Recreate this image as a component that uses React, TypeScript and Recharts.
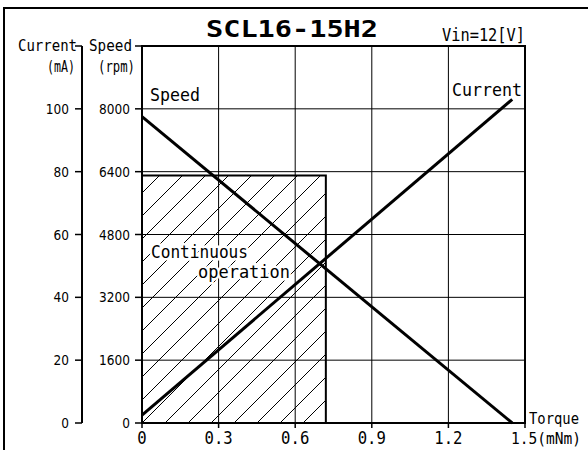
import { ComposedChart, Line, XAxis, YAxis, CartesianGrid, ReferenceArea } from 'recharts'

const torque = [0, 1.45]
const speedRpm = [7800, 0]
const currentMa = [2.5, 103]

const torqueTicks = [0, 0.3, 0.6, 0.9, 1.2, 1.5]
const speedTicks = [0, 1600, 3200, 4800, 6400, 8000, 9600]
const currentTicks = [0, 20, 40, 60, 80, 100, 120]

// continuous operation zone: torque 0..0.72 mNm, speed 0..6300 rpm
const continuousTorque = [0, 0.72]
const continuousSpeed = [0, 6300]

const data = torque.map((t, i) => ({ torque: t, speed: speedRpm[i], current: currentMa[i] }))

const MONO = "'DejaVu Sans Mono', monospace"
const NUM = "'DejaVu Sans Condensed', 'Liberation Sans Narrow', sans-serif"

function Mono({ x, y, text, w, size, anchor = 'start', bold = false, halo = false }: any) {
  return (
    <text
      x={x}
      y={y}
      fontFamily={MONO}
      fontSize={size}
      fontWeight={bold ? 'bold' : 'normal'}
      textLength={w}
      lengthAdjust="spacingAndGlyphs"
      textAnchor={anchor}
      fill="#000"
      stroke={halo ? '#fff' : 'none'}
      strokeWidth={halo ? 5 : 0}
      paintOrder="stroke"
    >
      {text}
    </text>
  )
}

function SpeedTick({ x, y, payload }: any) {
  if (payload.value === 9600) {
    return (
      <g>
        <Mono x={x - 1} y={y + 5} text="Speed" w={43} size={15} anchor="end" />
        <Mono x={x + 2} y={y + 26} text="(rpm)" w={37} size={15} anchor="end" />
      </g>
    )
  }
  return (
    <text x={x - 3} y={y + 5} textAnchor="end" fontFamily={NUM} fontSize={13.5} fill="#000">
      {payload.value}
    </text>
  )
}

function CurrentTick({ x, y, payload }: any) {
  if (payload.value === 120) {
    return (
      <g>
        <Mono x={x + 4} y={y + 5} text="Current" w={59} size={15} anchor="end" />
        <Mono x={x + 2} y={y + 26} text="(mA)" w={28} size={15} anchor="end" />
      </g>
    )
  }
  return (
    <text x={x - 4} y={y + 5} textAnchor="end" fontFamily={NUM} fontSize={13.5} fill="#000">
      {payload.value}
    </text>
  )
}

function TorqueTick({ x, y, payload }: any) {
  const v = payload.value
  if (v === 1.5) {
    return <Mono x={x - 14} y={y + 14} text="1.5(mNm)" w={70} size={15.5} />
  }
  const label = v === 0 ? '0' : v.toFixed(1)
  return <Mono x={x} y={y + 14} text={label} w={label.length * 9.4} size={18} anchor="middle" />
}

export default function App() {
  return (
    <div
      style={{
        position: 'fixed',
        left: 0,
        top: 0,
        width: 588,
        height: 450,
        overflow: 'hidden',
        background: '#fff',
      }}
    >
      <div
        style={{
          position: 'absolute',
          left: 3,
          top: 7,
          width: 700,
          height: 600,
          border: '2px solid #000',
        }}
      />
      <div style={{ position: 'absolute', left: 0, top: 0 }}>
        <ComposedChart
          width={588}
          height={450}
          data={data}
          margin={{ top: 46, right: 63, bottom: 0, left: 0 }}
        >
          <defs>
            <pattern id="hatch" patternUnits="userSpaceOnUse" width={23} height={23} x={13} y={0}>
              <path d="M-2,2 L2,-2 M0,23 L23,0 M21,25 L25,21" stroke="#000" strokeWidth={1} />
            </pattern>
          </defs>
          <CartesianGrid stroke="#000" strokeWidth={1} />
          <XAxis
            dataKey="torque"
            type="number"
            domain={[0, 1.5]}
            ticks={torqueTicks}
            interval={0}
            height={27}
            axisLine={false}
            tickSize={5}
            tickLine={{ stroke: '#000', strokeWidth: 1.5 }}
            tick={<TorqueTick />}
          />
          <YAxis
            type="number"
            domain={[0, 9600]}
            ticks={speedTicks}
            interval={0}
            width={60}
            axisLine={false}
            tickSize={7}
            tickLine={{ stroke: '#000', strokeWidth: 1.5 }}
            tick={<SpeedTick />}
          />
          <YAxis
            yAxisId="c"
            type="number"
            domain={[0, 120]}
            ticks={currentTicks}
            interval={0}
            width={82}
            axisLine={{ stroke: '#000', strokeWidth: 2 }}
            tickSize={7}
            tickLine={{ stroke: '#000', strokeWidth: 1.5 }}
            tick={<CurrentTick />}
          />
          <ReferenceArea
            x1={continuousTorque[0]}
            x2={continuousTorque[1]}
            y1={continuousSpeed[0]}
            y2={continuousSpeed[1]}
            fill="url(#hatch)"
            fillOpacity={1}
            stroke="#000"
            strokeWidth={2}
          />
          <ReferenceArea
            x1={0}
            x2={1.5}
            y1={0}
            y2={9600}
            fill="none"
            stroke="#000"
            strokeWidth={2}
          />
          <Line
            dataKey="speed"
            stroke="#000"
            strokeWidth={3}
            dot={false}
            isAnimationActive={false}
          />
          <Line
            dataKey="current"
            yAxisId="c"
            stroke="#000"
            strokeWidth={3}
            dot={false}
            isAnimationActive={false}
          />
        </ComposedChart>
      </div>
      <svg
        width={588}
        height={450}
        style={{ position: 'absolute', left: 0, top: 0, pointerEvents: 'none' }}
      >
        <Mono x={206} y={37} text="SCL16-15H2" w={172} size={23} bold />
        <Mono x={525} y={41} text="Vin=12[V]" w={83} size={17} anchor="end" />
        <Mono x={150} y={101} text="Speed" w={50} size={17} />
        <Mono x={452} y={96} text="Current" w={70} size={18} />
        <Mono x={151} y={258} text="Continuous" w={97} size={18} halo />
        <Mono x={198} y={278} text="operation" w={92} size={18} halo />
        <Mono x={529} y={424} text="Torque" w={50} size={16} />
      </svg>
    </div>
  )
}
